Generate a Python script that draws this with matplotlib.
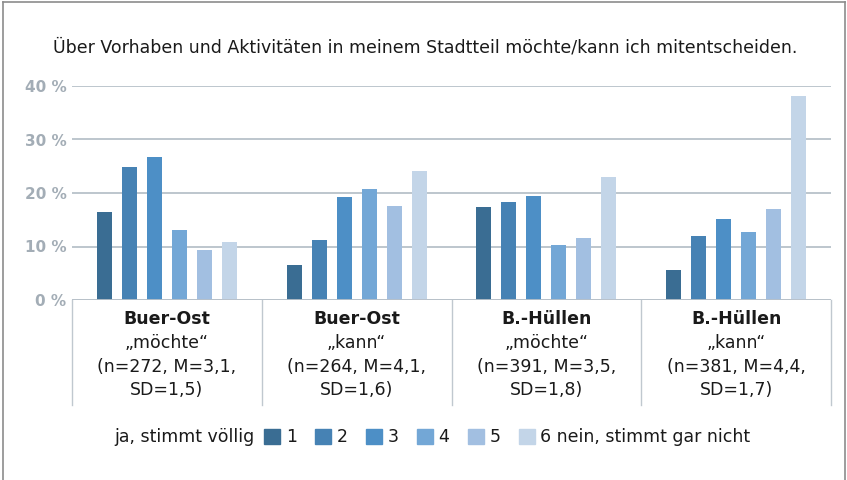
import matplotlib.pyplot as plt
import matplotlib.patches as mpatches
from matplotlib.lines import Line2D
import numpy as np

plt.rcParams['font.family'] = ['DejaVu Sans']

title = "Über Vorhaben und Aktivitäten in meinem Stadtteil möchte/kann ich mitentscheiden."
groups = ["Buer-Ost", "Buer-Ost", "B.-Hüllen", "B.-Hüllen"]
subs = ["\u201emöchte\u201c", "\u201ekann\u201c", "\u201emöchte\u201c", "\u201ekann\u201c"]
stats1 = ["(n=272, M=3,1,", "(n=264, M=4,1,", "(n=391, M=3,5,", "(n=381, M=4,4,"]
stats2 = ["SD=1,5)", "SD=1,6)", "SD=1,8)", "SD=1,7)"]
answer_labels = ["1", "2", "3", "4", "5", "6 nein, stimmt gar nicht"]
# percent per answer (1..6) for each group
values = [
    [16.5, 24.8, 26.8, 13.0, 9.3, 10.8],
    [6.5, 11.2, 19.3, 20.8, 17.6, 24.2],
    [17.4, 18.3, 19.4, 10.2, 11.5, 23.0],
    [5.7, 12.0, 15.2, 12.8, 17.1, 38.1],
]
colors = ['#3a6d93', '#4682b4', '#4d8fc6', '#73a7d6', '#a2bfe1', '#c3d5e8']

fig = plt.figure(figsize=(8.47, 4.80), dpi=100)
ax = fig.add_axes([72 / 847, 1 - 300 / 480, (831 - 72) / 847, 214 / 480])

vals = np.array(values)
pitch = 0.1316
width = 0.079
for k in range(6):
    xs = np.arange(4) + 0.5 + (k - 2.5) * pitch
    ax.bar(xs, vals[:, k], width=width, color=colors[k], zorder=3)

ax.set_xlim(0, 4)
ax.set_ylim(0, 40)
ax.set_yticks([0, 10, 20, 30, 40])
ax.set_yticklabels(["0 %", "10 %", "20 %", "30 %", "40 %"], color='#a3adb6',
                   fontsize=11, fontweight='bold')
ax.tick_params(axis='y', length=0, pad=4)
ax.set_xticks([])
ax.grid(axis='y', color='#b8c1c9', linewidth=1.3, zorder=0)
for s in ['top', 'right', 'bottom', 'left']:
    ax.spines[s].set_visible(False)
ax.axhline(0, color='#b8c1c9', linewidth=1.3, zorder=4)

# category table below the axis
trans = ax.get_xaxis_transform()
bottom = (300 - 405) / 214
for i in range(5):
    ax.add_line(Line2D([i, i], [0, bottom], transform=trans, color='#c0c8cf',
                       linewidth=1.0, clip_on=False))
line_y = [(300 - 319) / 214, (300 - 343) / 214, (300 - 367) / 214, (300 - 390) / 214]
for i in range(4):
    cx = i + 0.5
    ax.text(cx, line_y[0], groups[i], transform=trans, ha='center', va='center',
            fontsize=12.5, fontweight='bold', color='#1a1a1a')
    ax.text(cx, line_y[1], subs[i], transform=trans, ha='center', va='center',
            fontsize=12.5, color='#1a1a1a')
    ax.text(cx, line_y[2], stats1[i], transform=trans, ha='center', va='center',
            fontsize=12.5, color='#1a1a1a')
    ax.text(cx, line_y[3], stats2[i], transform=trans, ha='center', va='center',
            fontsize=12.5, color='#1a1a1a')

fig.text(425 / 847, 1 - 48 / 480, title, ha='center', va='center', fontsize=12.5,
         color='#1a1a1a')

# legend
fig.text(255 / 847, 1 - 437 / 480, "ja, stimmt völlig", ha='right', va='center',
         fontsize=12.5, color='#1a1a1a')
handles = [mpatches.Patch(color=c, label=l) for c, l in zip(colors, answer_labels)]
leg = fig.legend(handles=handles, loc='center left',
                 bbox_to_anchor=(264 / 847, 1 - 437 / 480), ncol=6, frameon=False,
                 fontsize=12.5, handlelength=0.95, handleheight=0.95, handletextpad=0.3,
                 columnspacing=1.05, borderpad=0, borderaxespad=0)
for t in leg.get_texts():
    t.set_color('#1a1a1a')

# outer frame
fig.add_artist(Line2D([3 / 847, 3 / 847], [0, 1 - 2 / 480], transform=fig.transFigure,
                      color='#8c8c8c', linewidth=1.2))
fig.add_artist(Line2D([3 / 847, 845 / 847], [1 - 2 / 480, 1 - 2 / 480],
                      transform=fig.transFigure, color='#8c8c8c', linewidth=1.2))
fig.add_artist(Line2D([845 / 847, 845 / 847], [0, 1 - 2 / 480], transform=fig.transFigure,
                      color='#8c8c8c', linewidth=1.2))

fig.savefig('out.png', dpi=100)
